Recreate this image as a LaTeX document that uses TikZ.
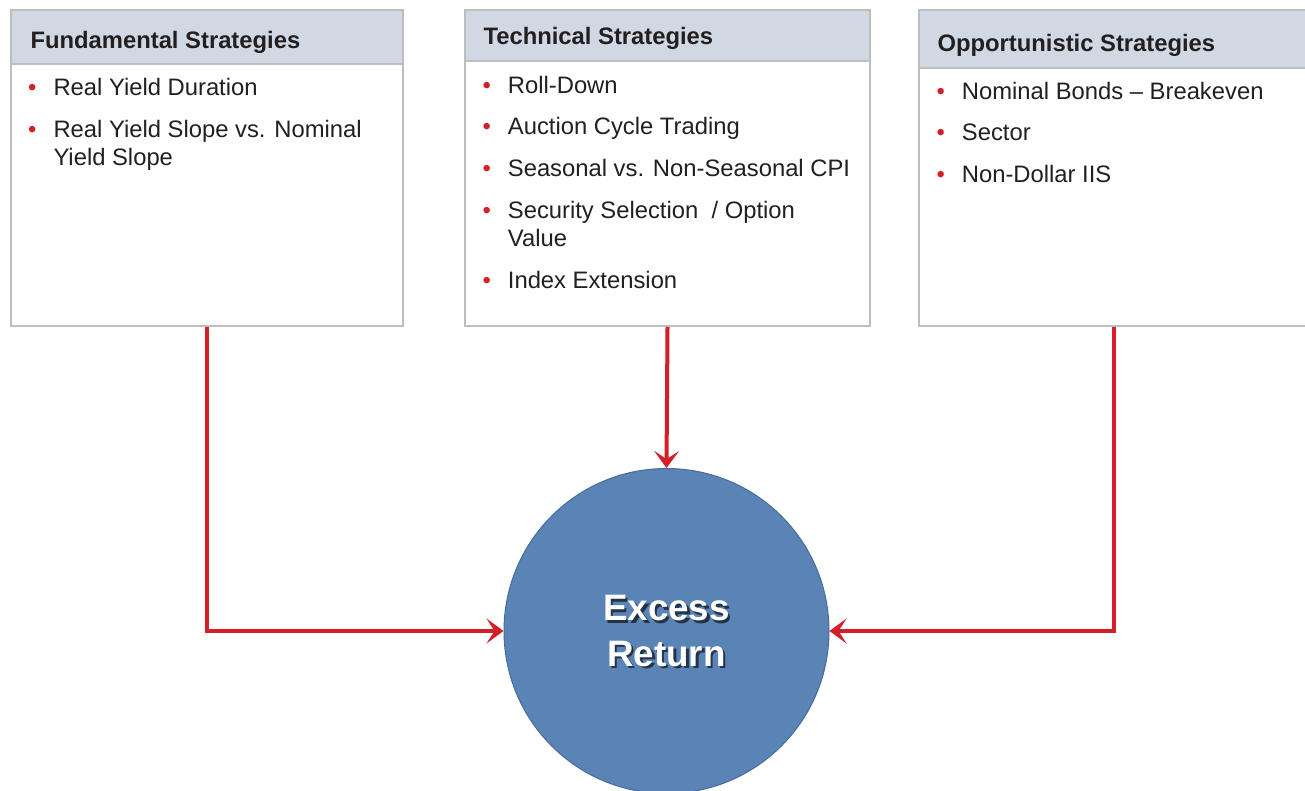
\documentclass[tikz,border=0pt]{standalone}
\usepackage{fontspec}
\setmainfont{Liberation Sans}
\usetikzlibrary{arrows.meta}
\definecolor{hdrfill}{RGB}{208,216,228}
\definecolor{boxgray}{RGB}{190,190,190}
\definecolor{flowred}{RGB}{211,31,40}
\definecolor{retblue}{RGB}{90,131,182}
\definecolor{retedge}{RGB}{72,108,155}
\definecolor{inktext}{RGB}{35,31,32}
\newcommand{\stratitem}[1]{\par\noindent\llap{\textcolor{flowred}{•}\hspace{17pt}}#1}
\newcommand{\stratlist}[1]{\begin{minipage}[t]{380pt}\raggedright\setlength{\parskip}{13.7pt}#1\end{minipage}}

\begin{document}
\begin{tikzpicture}[
		x=1pt, y=-1pt,
		stratbox/.style={rectangle, draw=boxgray, line width=2pt, fill=white, anchor=north west, inner sep=0pt},
		stratcap/.style={rectangle, draw=boxgray, line width=2pt, fill=hdrfill, anchor=north west, inner sep=0pt},
		strattitle/.style={anchor=base west, inner sep=0pt, text=inktext, font=\bfseries\fontsize{23.8}{28}\selectfont},
		stratbody/.style={anchor=base west, inner sep=0pt, text=inktext, font=\fontsize{23.8}{28}\selectfont},
		retcircle/.style={circle, fill=retblue, draw=retedge, line width=1pt, minimum size=325pt, inner sep=0pt},
		rettext/.style={align=center, inner sep=0pt, font=\bfseries\fontsize{36.8}{45.6}\selectfont},
		flow/.style={draw=flowred, line width=4pt, -{Stealth[length=17pt, width=25pt, inset=8pt]}},
		]
		\useasboundingbox (0,0) rectangle (1305,791);
		% strategy boxes
		\node[stratbox, minimum width=392pt, minimum height=316pt] (fund) at (10,9) {};
		\node[stratbox, minimum width=405pt, minimum height=316pt] (tech) at (464,9) {};
		\node[stratbox, minimum width=390pt, minimum height=315.5pt] (opp) at (917.5,9) {};
		\node[stratcap, minimum width=392pt, minimum height=54pt] (fundcap) at (fund.north west) {};
		\node[stratcap, minimum width=405pt, minimum height=51pt] (techcap) at (tech.north west) {};
		\node[stratcap, minimum width=390pt, minimum height=58pt] (oppcap) at (opp.north west) {};
		\node[strattitle] (fundtitle) at (30.3,48.3) {Fundamental Strategies};
		\node[strattitle] (techtitle) at (483.3,45) {Technical Strategies};
		\node[strattitle] (opptitle) at (937.3,51.7) {Opportunistic Strategies};
		\node[stratbody] (fundlist) at (53.3,96) {\stratlist{%
				\stratitem{Real Yield Duration}
				\stratitem{Real Yield Slope vs. Nominal\newline Yield Slope}}};
		\node[stratbody] (techlist) at (507.7,93.3) {\stratlist{%
				\stratitem{Roll-Down}
				\stratitem{Auction Cycle Trading}
				\stratitem{Seasonal vs. Non-Seasonal CPI}
				\stratitem{Security Selection \ / Option\newline Value}
				\stratitem{Index Extension}}};
		\node[stratbody] (opplist) at (961.7,99.3) {\stratlist{%
				\stratitem{Nominal Bonds -- Breakeven}
				\stratitem{Sector}
				\stratitem{Non-Dollar IIS}}};
		% excess return
		\node[retcircle] (ret) at (666.5,631) {};
		\node[rettext, text=black, opacity=0.6] (retshadow) at ([shift={(2.5,2.5)}]ret.center) {Excess\\Return};
		\node[rettext, text=white] (retlabel) at (ret.center) {Excess\\Return};
		% connectors
		\draw[flow] (fund.south) |- (ret.west);
		\draw[flow] (tech.south) -- (ret.north);
		\draw[flow] (opp.south) |- (ret.east);
	\end{tikzpicture}
\end{document}
